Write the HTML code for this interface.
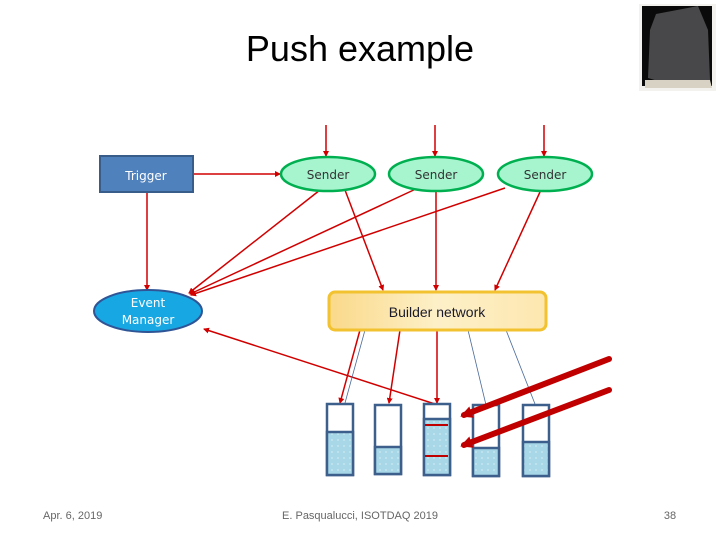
<!DOCTYPE html>
<html><head><meta charset="utf-8"><style>
body{margin:0;background:#fff;}
svg{display:block;}
</style></head><body>
<svg width="720" height="540" viewBox="0 0 720 540" xmlns="http://www.w3.org/2000/svg">
<defs>
<marker id="a" markerWidth="6" markerHeight="6" refX="5" refY="3" orient="auto" markerUnits="userSpaceOnUse"><path d="M0,0 L6,3 L0,6 z" fill="#d00000"/></marker>
<marker id="b" markerWidth="12" markerHeight="12" refX="8" refY="6" orient="auto" markerUnits="userSpaceOnUse"><path d="M0,0 L12,6 L0,12 z" fill="#c00000"/></marker>
<linearGradient id="g" x1="0" y1="0" x2="1" y2="0"><stop offset="0" stop-color="#fad98a"/><stop offset="0.5" stop-color="#fdf0c8"/><stop offset="1" stop-color="#fde7b0"/></linearGradient>
<pattern id="w" width="6" height="6" patternUnits="userSpaceOnUse"><rect width="6" height="6" fill="#a8d8e8"/><circle cx="2" cy="2" r="1" fill="#c4e6f0"/></pattern>
</defs>
<text x="360" y="61" font-family="Liberation Sans, sans-serif" font-size="36" text-anchor="middle" fill="#000">Push example</text>
<rect x="639" y="4" width="77" height="87" fill="#f4f2ee"/>
<rect x="642" y="6" width="70" height="80" fill="#0a0a0a"/>
<path d="M656,14 L698,6 L708,30 L710,80 L668,84 L648,78 L650,30 z" fill="#48484a"/>
<path d="M645,80 L710,80 L712,88 L645,88 z" fill="#d8d2c4"/>

<g stroke="#d00000" stroke-width="1.5" fill="none">
<line x1="326" y1="125" x2="326" y2="156" marker-end="url(#a)"/>
<line x1="435" y1="125" x2="435" y2="156" marker-end="url(#a)"/>
<line x1="544" y1="125" x2="544" y2="156" marker-end="url(#a)"/>
<line x1="193" y1="174" x2="280" y2="174" marker-end="url(#a)"/>
<line x1="147" y1="192" x2="147" y2="290" marker-end="url(#a)"/>
<line x1="320" y1="190" x2="189" y2="293" marker-end="url(#a)"/>
<line x1="418" y1="188" x2="190" y2="294" marker-end="url(#a)"/>
<line x1="505" y1="188" x2="191" y2="295" marker-end="url(#a)"/>
<line x1="345" y1="190" x2="383" y2="290" marker-end="url(#a)"/>
<line x1="436" y1="192" x2="436" y2="290" marker-end="url(#a)"/>
<line x1="540" y1="192" x2="495" y2="290" marker-end="url(#a)"/>
<line x1="360" y1="330" x2="340" y2="403" marker-end="url(#a)"/>
<line x1="400" y1="330" x2="389" y2="403" marker-end="url(#a)"/>
<line x1="437" y1="330" x2="437" y2="403" marker-end="url(#a)"/>
<line x1="438" y1="405" x2="204" y2="329" marker-end="url(#a)"/>
</g>
<g stroke="#4a6a9a" stroke-width="0.8">
<line x1="365" y1="330" x2="345" y2="403"/>
<line x1="468" y1="330" x2="486" y2="405"/>
<line x1="506" y1="330" x2="535" y2="404"/>
</g>

<rect x="100" y="156" width="93" height="36" fill="#4f81bd" stroke="#385d8a" stroke-width="2"/>
<text x="146" y="180" font-family="DejaVu Sans, sans-serif" font-size="12" fill="#fff" text-anchor="middle">Trigger</text>
<g fill="#a6f5cf" stroke="#00b050" stroke-width="2.5">
<ellipse cx="328" cy="174" rx="47" ry="17"/>
<ellipse cx="436" cy="174" rx="47" ry="17"/>
<ellipse cx="545" cy="174" rx="47" ry="17"/>
</g>
<g font-family="DejaVu Sans, sans-serif" font-size="12" fill="#333" text-anchor="middle">
<text x="328" y="179">Sender</text><text x="436" y="179">Sender</text><text x="545" y="179">Sender</text>
</g>
<ellipse cx="148" cy="311" rx="54" ry="21" fill="#17a8e3" stroke="#2f5597" stroke-width="2"/>
<text x="148" y="307" font-family="DejaVu Sans, sans-serif" font-size="12" fill="#fff" text-anchor="middle">Event</text>
<text x="148" y="324" font-family="DejaVu Sans, sans-serif" font-size="12" fill="#fff" text-anchor="middle">Manager</text>

<rect x="329" y="292" width="217" height="38" rx="6" fill="url(#g)" stroke="#f2c230" stroke-width="3"/>
<text x="437" y="317" font-family="Liberation Sans, sans-serif" font-size="14" fill="#1a1a2a" text-anchor="middle">Builder network</text>

<g stroke="#3c5f8c" stroke-width="2.5">
<rect x="327" y="404" width="26" height="71" fill="#fff"/><rect x="327" y="432" width="26" height="43" fill="url(#w)"/>
<rect x="375" y="405" width="26" height="69" fill="#fff"/><rect x="375" y="447" width="26" height="27" fill="url(#w)"/>
<rect x="424" y="404" width="26" height="71" fill="#fff"/><rect x="424" y="419" width="26" height="56" fill="url(#w)"/>
<rect x="473" y="405" width="26" height="71" fill="#fff"/><rect x="473" y="448" width="26" height="28" fill="url(#w)"/>
<rect x="523" y="405" width="26" height="71" fill="#fff"/><rect x="523" y="442" width="26" height="34" fill="url(#w)"/>
</g>
<g stroke="#c00000" stroke-width="2"><line x1="425" y1="425" x2="448" y2="425"/><line x1="425" y1="456" x2="448" y2="456"/></g>
<g stroke="#c00000" stroke-width="6" stroke-linecap="round">
<line x1="609" y1="359" x2="464" y2="415" marker-end="url(#b)"/>
<line x1="609" y1="390" x2="464" y2="445" marker-end="url(#b)"/>
</g>

<g font-family="Liberation Sans, sans-serif" font-size="11" fill="#666">
<text x="43" y="519">Apr. 6, 2019</text>
<text x="360" y="519" text-anchor="middle">E. Pasqualucci, ISOTDAQ 2019</text>
<text x="670" y="519" text-anchor="middle">38</text>
</g>
</svg>
</body></html>
